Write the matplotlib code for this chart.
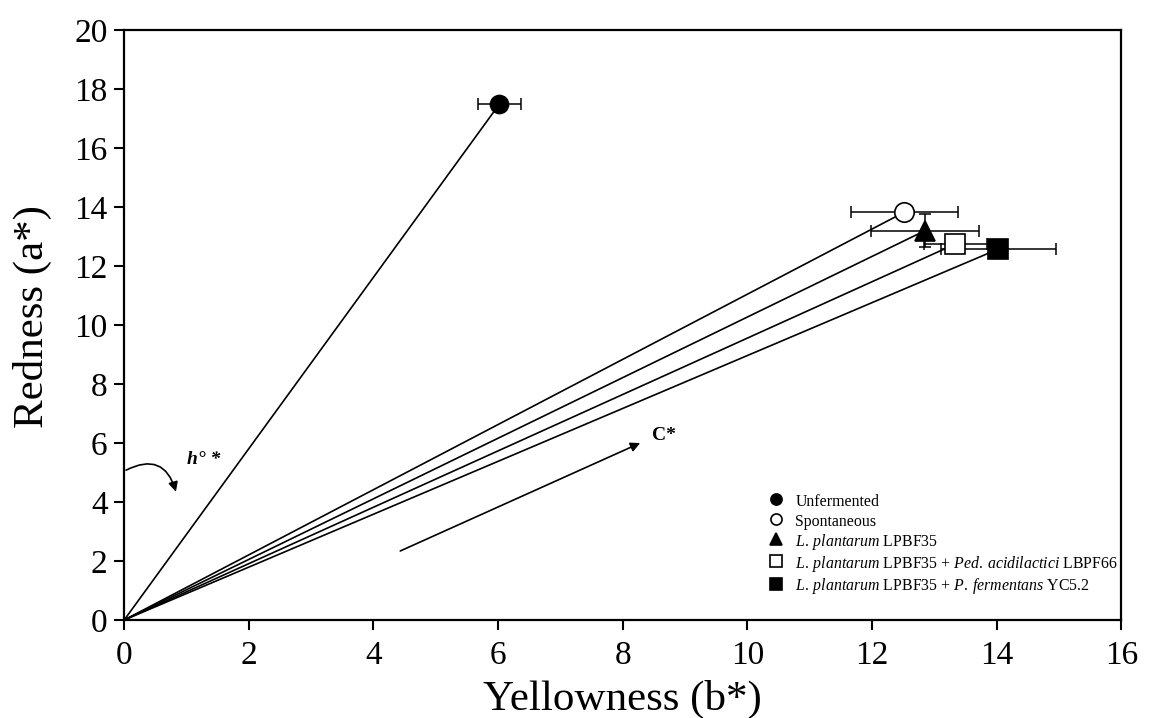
import matplotlib
matplotlib.use("Agg")
import matplotlib.pyplot as plt
from matplotlib.lines import Line2D
from matplotlib.patches import FancyArrowPatch

plt.rcParams['font.family'] = ['Liberation Serif', 'DejaVu Serif']
plt.rcParams['mathtext.fontset'] = 'custom'
plt.rcParams['mathtext.rm'] = 'Liberation Serif'
plt.rcParams['mathtext.it'] = 'Liberation Serif:italic'
plt.rcParams['mathtext.bf'] = 'Liberation Serif:bold'

# Data
labels = ["Unfermented",
          "Spontaneous",
          r"$\it{L.\:plantarum}$ LPBF35",
          r"$\it{L.\:plantarum}$ LPBF35 + $\it{Ped.\:acidilactici}$ LBPF66",
          r"$\it{L.\:plantarum}$ LPBF35 + $\it{P.\:fermentans}$ YC5.2"]
b_vals = [6.02, 12.52, 12.85, 13.34, 14.03]
a_vals = [17.49, 13.83, 13.20, 12.75, 12.58]
b_err = [0.35, 0.86, 0.86, 0.51, 0.92]
a_err = [0.08, 0.08, 0.55, 0.10, 0.25]
markers = ['o', 'o', '^', 's', 's']
faces = ['black', 'white', 'black', 'white', 'black']
msizes = [13, 14, 14, 14, 14]

fig = plt.figure(figsize=(11.5, 7.18), dpi=100)
ax = fig.add_axes([0.108, 0.1365, 0.867, 0.8215])

for b, a, be, ae, m, f, ms in zip(b_vals, a_vals, b_err, a_err, markers, faces, msizes):
    ax.plot([0, b], [0, a], color='black', lw=1.2, zorder=2)
    ax.errorbar(b, a, xerr=be, yerr=ae, fmt='none', ecolor='black', elinewidth=1.1,
                capsize=4, capthick=1.1, zorder=3)
    ax.plot(b, a, marker=m, ms=ms, mfc=f, mec='black', mew=1.2, ls='none', zorder=4)

# C* arrow
ax.annotate('', xy=(8.28, 6.0), xytext=(4.43, 2.34),
            arrowprops=dict(arrowstyle='-|>', color='black', lw=1.2,
                            mutation_scale=14, shrinkA=0, shrinkB=0))
ax.text(8.47, 6.27, 'C*', fontsize=14, fontweight='bold', ha='left', va='center')

# h° curved arrow
arr = FancyArrowPatch((0.03, 5.08), (0.83, 4.35),
                      connectionstyle='arc3,rad=-0.6', arrowstyle='-|>',
                      mutation_scale=14, color='black', lw=1.2, shrinkA=0, shrinkB=0)
ax.add_patch(arr)
ax.text(1.0, 5.45, 'h° *', fontsize=14, fontweight='bold', fontstyle='italic',
        ha='left', va='center')

ax.set_xlim(0, 16)
ax.set_ylim(0, 20)
ax.set_xticks(range(0, 17, 2))
ax.set_yticks(range(0, 21, 2))
ax.tick_params(direction='out', length=7, width=1.5, labelsize=24)
ax.tick_params(axis='x', pad=8)
ax.tick_params(axis='y', pad=5)
for s in ax.spines.values():
    s.set_linewidth(1.6)
ax.set_xlabel('Yellowness (b*)', fontsize=31, labelpad=6)
ax.set_ylabel('Redness (a*)', fontsize=31)
ax.yaxis.set_label_coords(-0.072, 0.515)

handles = [Line2D([], [], marker=m, ls='none', mfc=f, mec='black', mew=1.2, ms=8)
           for m, f in zip(markers, faces)]
ax.legend(handles, labels, loc='lower right', frameon=False, fontsize=11.4,
          handletextpad=0.6, handlelength=1.2, handleheight=1.25, labelspacing=0.14,
          borderaxespad=0.0, borderpad=0.0, bbox_to_anchor=(0.997, 0.04))

fig.savefig('out.png', dpi=100)
